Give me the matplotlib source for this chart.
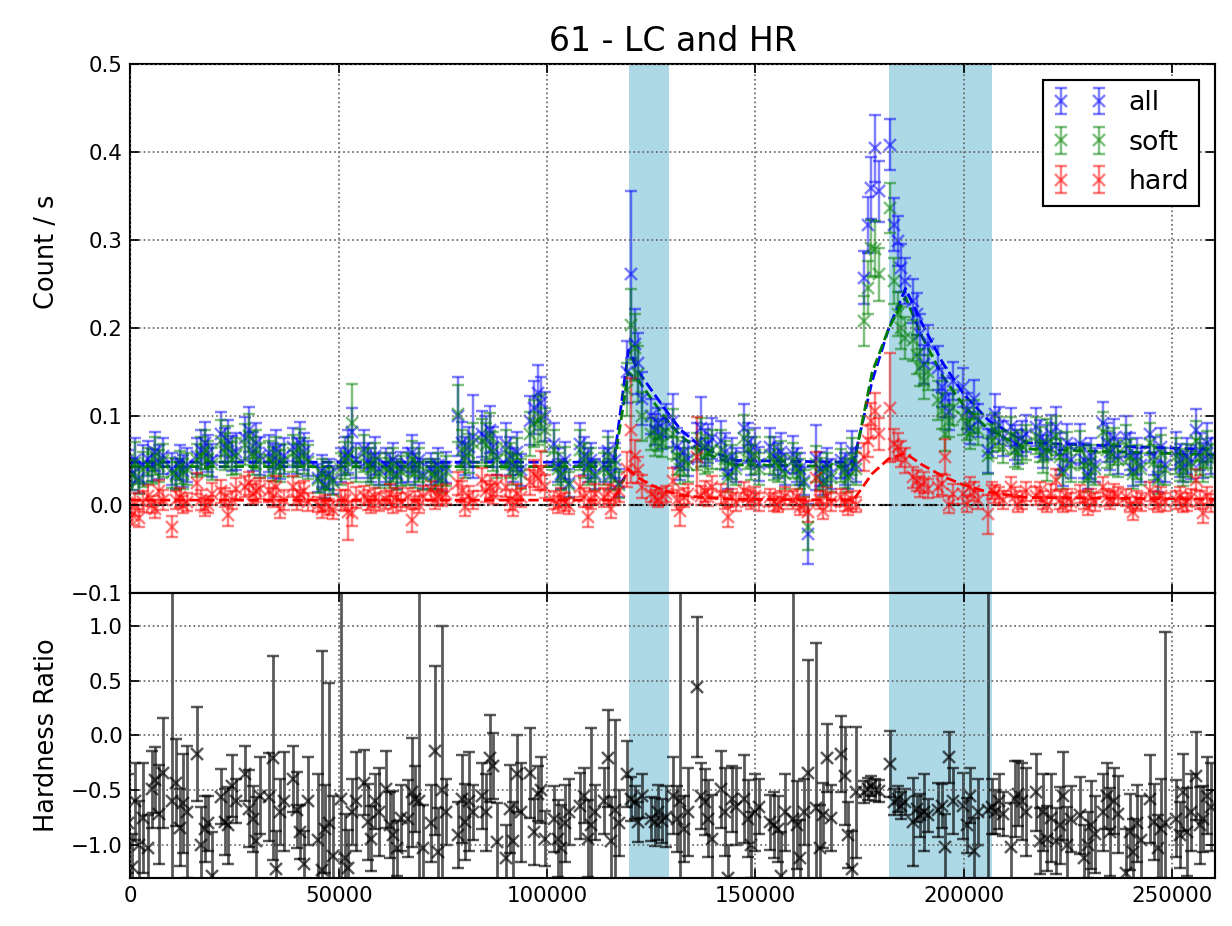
import numpy as np
import matplotlib
matplotlib.use("Agg")
import matplotlib.pyplot as plt

# ---------------- data ----------------
# centre time (s) of each observing cluster, and the bin offsets inside a cluster
cluster_t = [1200, 6000, 11800, 17800, 23500, 29300, 35000, 40800, 46800, 52300,
             57800, 63100, 68400, 73900, 80400, 86200, 91900, 97700, 103400, 109700,
             115400, 121000, 126700, 132000, 137800, 143500, 149000, 155300, 160800, 166300,
             172300, 177800, 184100, 189600, 195600, 201600, 207600, 213100, 219100, 223900,
             229700, 235200, 240700, 246500, 252700, 257500]
bin_offsets = [-1800, -900, 0, 900, 1800]

# count rates in units of 1e-3 count/s
rate_all = [
    42, 35, 50, 30, 45,   52, 45, 60, 48, 55,   40, 35, 48, 38, 45,   55, 62, 70, 58, 50,
    80, 65, 72, 58, 60,   75, 85, 60, 70, 55,   58, 50, 62, 48, 55,   65, 55, 70, 60, 52,
    30, 38, 22, 35, 28,   45, 55, 60, 82, 50,   63, 50, 45, 55, 40,   45, 40, 50, 35, 42,
    45, 58, 40, 50, 35,   40, 35, 45, 31, 42,   100, 70, 55, 65, 77,  80, 75, 85, 65, 55,
    69, 55, 45, 60, 39,   95, 110, 126, 115, 100,  69, 45, 35, 50, 24,  69, 55, 45, 50, 35,
    45, 61, 35, 50, 24,   150, 261, 182, 160, 120,  100, 85, 92, 80, 95,  95, 65, 46, 60, 52,
    70, 87, 65, 69, 75,   72, 60, 35, 55, 45,   87, 70, 55, 65, 46,   65, 55, 50, 60, 40,
    57, 45, 40, 27, -33,  53, 40, 27, 45, 35,   50, 40, 35, 61, 45,   257, 317, 359, 404, 355,
    408, 317, 299, 268, 253,  231, 216, 193, 159, 182,  155, 133, 121, 105, 140,  133, 106, 87, 120, 95,
    61, 80, 103, 90, 75,  88, 70, 65, 75, 80,   88, 75, 60, 70, 80,   88, 60, 39, 70, 50,
    69, 50, 35, 55, 45,   92, 70, 60, 75, 55,   77, 60, 39, 55, 45,   80, 55, 31, 65, 45,
    61, 50, 43, 55, 48,   84, 60, 50, 70, 55]
rate_soft = [
    38, 33, 47, 28, 40,   45, 40, 55, 44, 50,   36, 32, 42, 35, 40,   50, 55, 62, 52, 46,
    72, 60, 66, 52, 55,   68, 78, 55, 62, 50,   52, 46, 56, 44, 50,   58, 50, 64, 55, 48,
    28, 35, 20, 32, 26,   40, 50, 55, 92, 45,   58, 45, 40, 50, 36,   40, 36, 45, 32, 38,
    40, 52, 36, 45, 32,   35, 32, 40, 28, 38,   103, 62, 50, 58, 70,  72, 68, 78, 60, 50,
    62, 50, 40, 54, 35,   80, 92, 95, 98, 85,   62, 40, 32, 45, 22,   62, 50, 40, 45, 32,
    40, 55, 32, 45, 22,   130, 204, 178, 148, 100,  80, 72, 78, 70, 82,  80, 55, 40, 52, 45,
    60, 70, 55, 58, 62,   62, 52, 30, 48, 40,   75, 62, 48, 56, 40,   56, 48, 44, 52, 35,
    50, 40, 35, 24, -26,  46, 35, 24, 40, 30,   44, 36, 30, 54, 40,   208, 246, 291, 290, 261,
    336, 253, 216, 200, 189,  186, 170, 155, 140, 150,  118, 106, 80, 95, 110,  99, 91, 80, 100, 85,
    55, 72, 84, 80, 65,   78, 62, 58, 66, 70,   78, 68, 54, 62, 72,   78, 54, 35, 62, 45,
    62, 45, 30, 48, 40,   82, 62, 54, 66, 50,   68, 54, 35, 48, 40,   70, 48, 28, 58, 40,
    55, 45, 38, 50, 43,   72, 54, 45, 62, 50]
rate_hard = [
    -5, -12, 0, -15, 3,   10, 0, -5, 15, 5,    -25, 5, 8, 0, 3,     24, 5, -3, 0, 12,
    15, 8, -12, 5, 18,    20, 24, 12, 15, 18,   15, 8, 20, -5, 5,    20, 5, 12, 15, 3,
    0, -5, 2, -3, -6,     5, 5, -8, -10, 8,     10, 5, 0, 8, 3,      5, 12, 0, 8, 3,
    8, -18, 5, 0, 10,     16, 5, 10, 8, 12,     24, 15, -3, 10, 5,   28, 15, 20, 12, 22,
    20, 5, -3, 12, 8,     25, 35, 30, 39, 20,   5, 0, 8, 3, -2,      20, 8, -14, 5, 12,
    8, 12, -5, 10, 15,    40, 84, 55, 39, 20,   12, 8, 5, 10, 12,    27, 5, -7, 8, 12,
    54, 10, 15, 8, 20,    12, 5, -14, 8, 3,     15, 8, 5, 10, 3,     8, 3, 0, 5, 10,
    5, 8, -3, 0, -8,      30, 5, -7, 10, 3,     8, 3, -3, 5, 0,      54, 72, 95, 106, 80,
    110, 69, 65, 57, 50,  31, 27, 20, 25, 18,   20, 23, 54, 0, 12,   12, 1, 20, 15, 5,
    -11, 16, 12, 10, 5,   20, 10, 0, 5, 15,     10, 15, 5, 0, 12,    28, 5, 0, 8, 3,
    12, 5, -3, 8, 3,      20, 8, 5, 12, 10,     8, 0, -8, 5, 3,      15, 5, 0, 10, 3,
    5, 10, 0, 3, 8,       28, 5, -10, 10, 2]
err_all = [
    20, 18, 25, 17, 22,   20, 18, 22, 19, 20,   18, 17, 20, 18, 19,   20, 22, 24, 21, 19,
    25, 22, 24, 20, 21,   24, 26, 22, 23, 21,   21, 20, 22, 19, 20,   22, 20, 24, 21, 20,
    16, 18, 15, 17, 16,   19, 22, 24, 28, 20,   22, 20, 19, 21, 18,   19, 18, 20, 17, 18,
    19, 21, 18, 20, 17,   18, 17, 19, 16, 18,   45, 24, 21, 23, 47,   26, 25, 27, 23, 21,
    23, 21, 19, 22, 18,   28, 30, 32, 30, 28,   24, 19, 17, 21, 16,   24, 21, 19, 20, 17,
    19, 22, 17, 20, 16,   35, 95, 40, 35, 30,   20, 18, 18, 17, 19,   30, 22, 18, 21, 20,
    22, 35, 21, 22, 23,   23, 21, 17, 20, 19,   27, 23, 21, 22, 19,   22, 21, 20, 21, 18,
    21, 19, 18, 16, 34,   37, 19, 16, 19, 17,   20, 18, 17, 22, 19,   30, 32, 35, 38, 35,
    29, 30, 28, 27, 26,   25, 24, 23, 22, 22,   25, 22, 22, 20, 22,   22, 20, 18, 21, 19,
    25, 21, 22, 21, 20,   22, 20, 19, 20, 21,   22, 21, 19, 20, 21,   23, 21, 18, 21, 20,
    22, 20, 17, 20, 19,   24, 22, 21, 22, 20,   23, 21, 18, 20, 19,   24, 21, 17, 22, 19,
    21, 19, 18, 20, 19,   24, 21, 20, 22, 20]
err_soft = [
    18, 17, 24, 16, 20,   19, 17, 21, 18, 19,   17, 16, 19, 17, 18,   19, 21, 22, 20, 18,
    24, 21, 23, 19, 20,   23, 25, 21, 22, 20,   20, 19, 21, 18, 19,   21, 19, 22, 20, 19,
    15, 17, 14, 16, 15,   18, 21, 22, 45, 19,   21, 19, 18, 20, 17,   18, 17, 19, 16, 17,
    18, 20, 17, 19, 16,   17, 16, 18, 15, 17,   32, 23, 20, 22, 22,   25, 24, 26, 22, 20,
    22, 20, 18, 21, 17,   25, 27, 28, 27, 25,   23, 18, 16, 20, 15,   23, 20, 18, 19, 16,
    18, 21, 16, 19, 15,   30, 40, 38, 32, 28,   18, 17, 17, 16, 18,   28, 21, 17, 20, 19,
    21, 28, 20, 21, 22,   22, 20, 16, 19, 18,   26, 22, 20, 21, 18,   21, 20, 19, 20, 17,
    20, 18, 17, 15, 25,   20, 18, 15, 18, 16,   19, 17, 16, 21, 18,   28, 30, 32, 32, 30,
    28, 26, 25, 24, 24,   23, 22, 21, 20, 20,   22, 20, 19, 18, 20,   20, 18, 17, 19, 18,
    20, 19, 20, 19, 18,   21, 19, 18, 19, 20,   21, 20, 18, 35, 20,   22, 20, 17, 20, 19,
    21, 19, 16, 19, 18,   23, 21, 20, 21, 19,   22, 20, 17, 19, 18,   23, 20, 16, 21, 18,
    20, 18, 17, 19, 18,   23, 20, 19, 21, 19]
err_hard = [
    12, 11, 13, 10, 12,   12, 10, 10, 13, 11,   12, 10, 11, 10, 10,   12, 11, 10, 10, 12,
    13, 11, 12, 10, 12,   12, 13, 11, 12, 12,   12, 11, 12, 10, 11,   12, 11, 12, 12, 10,
    9, 10, 9, 9, 10,      11, 12, 32, 14, 12,   11, 11, 10, 11, 10,   10, 11, 10, 11, 10,
    11, 13, 10, 10, 11,   11, 10, 11, 10, 11,   13, 12, 10, 11, 10,   13, 12, 13, 11, 12,
    12, 11, 10, 11, 11,   14, 15, 14, 22, 13,   10, 10, 11, 10, 9,    12, 11, 11, 10, 11,
    11, 11, 10, 11, 12,   20, 60, 18, 15, 13,   9, 8, 8, 9, 9,        14, 11, 17, 11, 11,
    45, 11, 12, 10, 12,   11, 10, 11, 10, 10,   11, 10, 10, 10, 10,   10, 10, 9, 10, 10,
    10, 10, 9, 9, 12,     30, 10, 9, 10, 10,    10, 10, 9, 10, 9,     16, 18, 20, 20, 18,
    62, 17, 16, 15, 14,   12, 12, 11, 12, 11,   12, 12, 20, 10, 11,   11, 10, 11, 11, 10,
    22, 10, 10, 10, 10,   11, 10, 9, 10, 11,    10, 11, 10, 9, 11,    12, 10, 9, 10, 10,
    10, 10, 9, 10, 10,    11, 10, 10, 11, 10,   10, 9, 10, 10, 10,    11, 10, 9, 10, 10,
    10, 10, 9, 10, 10,    12, 10, 11, 10, 10]
# hardness ratio in units of 0.01
hardness = [
    -80, -120, -60, -100, -75,  -103, -49, -41, -72, -34,  -60, -43, -84, -62, -70,  -17, -100, -85, -80, -128,
    -56, -79, -82, -46, -60,    -35, -67, -76, -96, -55,   -56, -21, -122, -70, -60, -40, -68, -88, -117, -60,
    -95, -123, -85, -80, -110,  -58, -112, -121, -70, -60, -43, -79, -94, -60, -70,  -49, -82, -91, -103, -75,
    -76, -52, -58, -60, -103,   -80, -14, -106, -50, -70,  -91, -58, -79, -60, -70,  -55, -70, -21, -28, -97,
    -112, -67, -96, -35, -70,   -34, -88, -53, -50, -94,   -76, -94, -103, -80, -70, -64, -55, -94, -82, -70,
    -60, -21, -96, -68, -80,    -35, -58, -61, -79, -55,   -76, -79, -70, -78, -74,  -55, -76, -60, -85, -70,
    44, -55, -61, -76, -94,     -49, -70, -130, -58, -65,  -58, -76, -100, -70, -65, -79, -82, -85, -128, -70,
    -76, -82, -112, -70, -34,   -66, -103, -73, -21, -75,  -17, -37, -91, -122, -52, -52, -49, -46, -50, -51,
    -26, -61, -58, -64, -61,    -79, -67, -73, -70, -73,   -68, -64, -102, -20, -60, -64, -82, -55, -105, -70,
    -68, -65, -70, -60, -72,    -102, -58, -53, -60, -70,  -52, -96, -70, -94, -75,  -96, -82, -55, -100, -76,
    -73, -112, -100, -82, -90,  -70, -55, -88, -60, -72,   -125, -88, -106, -80, -95, -58, -79, -103, -85, -80,
    -76, -91, -52, -88, -70,    -37, -82, -76, -55, -65]
err_hardness = [
    45, 30, 35, 40, 50,   30, 35, 30, 45, 50,   200, 40, 35, 45, 60,  43, 35, 30, 25, 40,
    25, 30, 35, 28, 20,   25, 35, 30, 40, 35,   40, 93, 35, 30, 45,   30, 35, 25, 30, 40,
    60, 200, 40, 128, 55, 250, 40, 35, 30, 45,  30, 35, 30, 25, 40,   35, 30, 40, 25, 30,
    35, 50, 30, 250, 40,  35, 77, 40, 150, 30,  30, 40, 35, 45, 25,   30, 35, 40, 30, 35,
    30, 40, 35, 35, 45,   41, 30, 25, 30, 25,   30, 35, 40, 35, 30,   30, 25, 35, 89, 25,
    30, 44, 40, 82, 30,   30, 20, 15, 18, 20,   20, 22, 25, 20, 28,   35, 30, 300, 30, 40,
    64, 30, 30, 35, 40,   35, 40, 30, 30, 35,   40, 35, 30, 35, 25,   25, 30, 30, 40, 35,
    300, 40, 35, 30, 103, 150, 40, 30, 31, 30,  35, 45, 30, 35, 60,   10, 10, 9, 10, 10,
    30, 12, 12, 12, 12,   40, 12, 20, 35, 15,   25, 20, 30, 23, 30,   30, 25, 25, 30, 30,
    300, 25, 20, 25, 20,  40, 35, 30, 35, 40,   35, 30, 35, 30, 40,   30, 35, 40, 35, 30,
    35, 30, 30, 40, 35,   35, 30, 40, 30, 35,   40, 35, 30, 35, 40,   40, 35, 30, 45, 174,
    35, 30, 35, 40, 35,   40, 35, 30, 35, 40]

# flare models (knots of the fitted light curve)
model_t = [0, 116000, 119500, 122000, 125000, 128000, 132000, 137000, 145000,
           173500, 178000, 182000, 186000, 190000, 195000, 200000, 206000, 215000, 262000]
model_all = [0.048, 0.048, 0.175, 0.150, 0.130, 0.110, 0.085, 0.065, 0.050,
             0.048, 0.140, 0.200, 0.245, 0.205, 0.160, 0.125, 0.095, 0.070, 0.062]
model_soft = [0.043, 0.043, 0.150, 0.140, 0.120, 0.100, 0.078, 0.060, 0.045,
              0.043, 0.150, 0.200, 0.235, 0.190, 0.145, 0.112, 0.085, 0.063, 0.056]
model_hard = [0.005, 0.005, 0.040, 0.030, 0.022, 0.016, 0.011, 0.008, 0.006,
              0.005, 0.035, 0.052, 0.058, 0.045, 0.032, 0.022, 0.014, 0.008, 0.006]

# flare intervals highlighted
flare_intervals = [(119600, 129200), (182000, 206800)]

# ---------------- arrays ----------------
t = np.array([c + o for c in cluster_t for o in bin_offsets], dtype=float)
A = np.array(rate_all) / 1000.0
S = np.array(rate_soft) / 1000.0
H = np.array(rate_hard) / 1000.0
eA = np.array(err_all) / 1000.0
eS = np.array(err_soft) / 1000.0
eH = np.array(err_hard) / 1000.0
HR = np.array(hardness) / 100.0
eHR = np.array(err_hardness) / 100.0

# ---------------- figure ----------------
plt.rcParams.update({
    "font.family": "DejaVu Sans",
    "font.size": 12,
    "axes.linewidth": 1.0,
    "xtick.direction": "in", "ytick.direction": "in",
    "xtick.top": True, "ytick.right": True,
    "xtick.major.size": 4, "ytick.major.size": 4,
    "xtick.major.width": 0.8, "ytick.major.width": 0.8,
    "axes.unicode_minus": True,
})

fig = plt.figure(figsize=(1232 / 154, 926 / 154), dpi=154)
ax1 = fig.add_axes([0.1059, 0.3599, 0.8807, 0.5715])
ax2 = fig.add_axes([0.1059, 0.0518, 0.8807, 0.3081], sharex=ax1)

for ax in (ax1, ax2):
    for a, b in flare_intervals:
        ax.axvspan(a, b, color="#add8e6", lw=0, zorder=0.5)

ax1.plot(model_t, model_all, "--", color="b", lw=1.3, zorder=1.8)
ax1.plot(model_t, model_soft, "--", color="g", lw=1.3, zorder=1.8)
ax1.plot(model_t, model_hard, "--", color="r", lw=1.3, zorder=1.8)
ax1.axhline(0, color="k", ls="-.", lw=1.0, zorder=1.5)

ekw = dict(fmt="x", capsize=2.6, elinewidth=1.15, capthick=1.15, markersize=5.5,
           markeredgewidth=1.15, alpha=0.5, zorder=2)
ax1.errorbar(t, A, yerr=eA, color="b", label="all", **ekw)
ax1.errorbar(t, S, yerr=eS, color="g", label="soft", **ekw)
ax1.errorbar(t, H, yerr=eH, color="r", label="hard", **ekw)

hkw = dict(ekw)
hkw.update(alpha=0.65, elinewidth=1.3, capthick=1.2)
ax2.errorbar(t, HR, yerr=eHR, color="k", **hkw)

ax1.set_xlim(0, 260400)
ax1.set_ylim(-0.1, 0.5)
ax2.set_ylim(-1.3, 1.3)
ax1.set_yticks([-0.1, 0.0, 0.1, 0.2, 0.3, 0.4, 0.5])
ax2.set_yticks([-1.0, -0.5, 0.0, 0.5, 1.0])
ax2.set_xticks([0, 50000, 100000, 150000, 200000, 250000])
ax1.tick_params(labelbottom=False, labelsize=10)
ax2.tick_params(labelsize=10)

for ax in (ax1, ax2):
    ax.set_axisbelow(False)
    ax.grid(True, ls=":", color="0.4", lw=0.8)

ax1.set_title("61 - LC and HR", fontsize=15.5)
ax1.set_ylabel("Count / s", fontsize=12)
ax2.set_ylabel("Hardness Ratio", fontsize=12)
ax1.yaxis.set_label_coords(-0.065, 0.645)
ax2.yaxis.set_label_coords(-0.065, 0.5)

leg = ax1.legend(loc="upper right", numpoints=2, fontsize=12.5, fancybox=False,
                 framealpha=1, edgecolor="k", borderaxespad=0.6)
leg.get_frame().set_linewidth(1.0)

fig.savefig("out.png", dpi=154)
